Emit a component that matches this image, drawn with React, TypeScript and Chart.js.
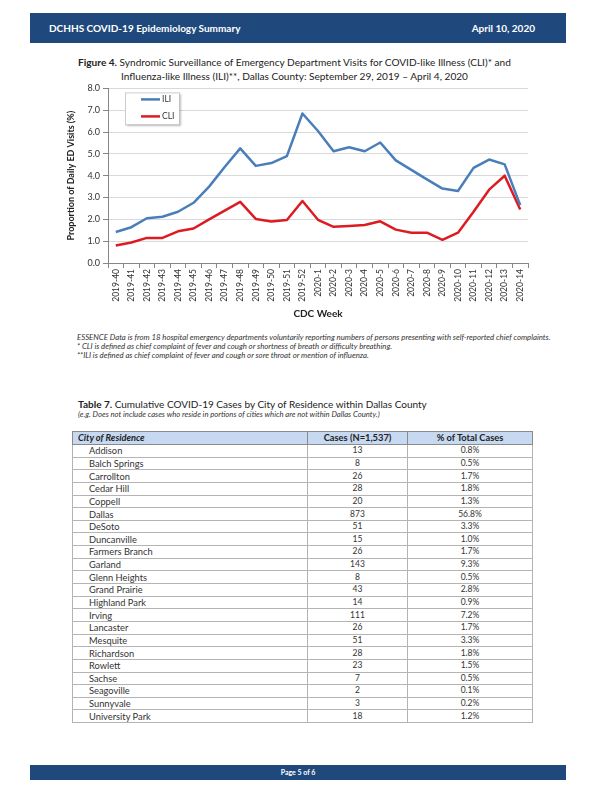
import React, { useEffect, useRef } from "react";
import { Chart, registerables } from "chart.js";

Chart.register(...registerables);

const weeks = [
  "2019-40", "2019-41", "2019-42", "2019-43", "2019-44", "2019-45", "2019-46",
  "2019-47", "2019-48", "2019-49", "2019-50", "2019-51", "2019-52",
  "2020-1", "2020-2", "2020-3", "2020-4", "2020-5", "2020-6", "2020-7",
  "2020-8", "2020-9", "2020-10", "2020-11", "2020-12", "2020-13", "2020-14",
];
const iliValues = [
  1.42, 1.64, 2.05, 2.12, 2.35, 2.76, 3.5, 4.4, 5.25, 4.45, 4.58, 4.9, 6.85,
  6.05, 5.12, 5.3, 5.12, 5.52, 4.7, 4.27, 3.83, 3.41, 3.3, 4.36, 4.74, 4.52, 2.65,
];
const cliValues = [
  0.8, 0.94, 1.15, 1.15, 1.45, 1.58, 2.0, 2.4, 2.8, 2.02, 1.9, 1.97, 2.84,
  1.98, 1.66, 1.7, 1.74, 1.91, 1.53, 1.39, 1.39, 1.06, 1.39, 2.35, 3.36, 4.0, 2.45,
];
const seriesLabels = ["ILI", "CLI"];
const seriesColors = ["#4a7ebb", "#dc1c22"];

const cities = [
  "Addison", "Balch Springs", "Carrollton", "Cedar Hill", "Coppell", "Dallas",
  "DeSoto", "Duncanville", "Farmers Branch", "Garland", "Glenn Heights",
  "Grand Prairie", "Highland Park", "Irving", "Lancaster", "Mesquite",
  "Richardson", "Rowlett", "Sachse", "Seagoville", "Sunnyvale", "University Park",
];
const cases = [13, 8, 26, 28, 20, 873, 51, 15, 26, 143, 8, 43, 14, 111, 26, 51, 28, 23, 7, 2, 3, 18];
const percents = [
  "0.8%", "0.5%", "1.7%", "1.8%", "1.3%", "56.8%", "3.3%", "1.0%", "1.7%", "9.3%",
  "0.5%", "2.8%", "0.9%", "7.2%", "1.7%", "3.3%", "1.8%", "1.5%", "0.5%", "0.1%",
  "0.2%", "1.2%",
];
const tableHeaders = ["City of Residence", "Cases (N=1,537)", "% of Total Cases"];

const footnotes = [
  "ESSENCE Data is from 18 hospital emergency departments voluntarily reporting numbers of persons presenting with self-reported chief complaints.",
  "* CLI is defined as chief complaint of fever and cough or shortness of breath or difficulty breathing.",
  "**ILI is defined as chief complaint of fever and cough or sore throat or mention of influenza.",
];

const FONT = "Lato, 'Open Sans', sans-serif";
const NAVY = "#1f497d";

const legendBoxPlugin = {
  id: "legendBox",
  afterDatasetsDraw(chart: any) {
    const { ctx, chartArea } = chart;
    const x = chartArea.left + 17;
    const y = chartArea.top + 4;
    const w = 54;
    const h = 32;
    ctx.save();
    ctx.shadowColor = "rgba(0,0,0,0.25)";
    ctx.shadowOffsetX = 1.5;
    ctx.shadowOffsetY = 1.5;
    ctx.shadowBlur = 2;
    ctx.fillStyle = "#ffffff";
    ctx.fillRect(x, y, w, h);
    ctx.shadowColor = "transparent";
    ctx.strokeStyle = "#bfbfbf";
    ctx.lineWidth = 0.8;
    ctx.strokeRect(x + 0.5, y + 0.5, w, h);
    chart.data.datasets.forEach((ds: any, i: number) => {
      const ly = y + 7 + i * 17;
      ctx.strokeStyle = ds.borderColor;
      ctx.lineWidth = 2.5;
      ctx.beginPath();
      ctx.moveTo(x + 16, ly);
      ctx.lineTo(x + 35, ly);
      ctx.stroke();
      ctx.fillStyle = "#333333";
      ctx.font = `8.5px ${FONT}`;
      ctx.textBaseline = "middle";
      ctx.textAlign = "left";
      ctx.fillText(ds.label, x + 37, ly);
    });
    ctx.restore();
  },
};

function LineChart() {
  const ref = useRef<HTMLCanvasElement | null>(null);
  useEffect(() => {
    if (!ref.current) return;
    Chart.defaults.font.family = FONT;
    const chart = new Chart(ref.current, {
      type: "line",
      data: {
        labels: weeks,
        datasets: [
          {
            label: seriesLabels[0],
            data: iliValues,
            borderColor: seriesColors[0],
            backgroundColor: seriesColors[0],
            borderWidth: 2.5,
            pointRadius: 0,
            tension: 0,
            borderJoinStyle: "round",
          },
          {
            label: seriesLabels[1],
            data: cliValues,
            borderColor: seriesColors[1],
            backgroundColor: seriesColors[1],
            borderWidth: 2.5,
            pointRadius: 0,
            tension: 0,
            borderJoinStyle: "round",
          },
        ],
      },
      options: {
        responsive: false,
        animation: false,
        layout: { padding: { left: 0, top: 8, right: 12, bottom: 0 } },
        plugins: {
          legend: { display: false },
          tooltip: { enabled: false },
        },
        scales: {
          x: {
            type: "category",
            offset: true,
            afterFit: (scale: any) => {
              scale.height = 67;
            },
            grid: {
              offset: true,
              drawOnChartArea: false,
              drawTicks: true,
              tickLength: 5,
              tickColor: "#868686",
            },
            border: { color: "#868686", width: 1 },
            ticks: {
              autoSkip: false,
              minRotation: 90,
              maxRotation: 90,
              padding: 1,
              color: "#333333",
              font: { size: 8.5 },
            },
            title: {
              display: true,
              text: "CDC Week",
              color: "#222222",
              font: { size: 10, weight: "bold" },
              padding: { top: 2, bottom: 10 },
            },
          },
          y: {
            min: 0,
            max: 8,
            afterFit: (scale: any) => {
              scale.width = 48;
            },
            ticks: {
              stepSize: 1,
              padding: 3,
              color: "#333333",
              font: { size: 9 },
              callback: (v: any) => Number(v).toFixed(1),
            },
            grid: {
              color: "#d9d9d9",
              lineWidth: 1,
              tickLength: 5,
              tickColor: "#868686",
            },
            border: { color: "#868686", width: 1 },
            title: {
              display: true,
              text: "Proportion of Daily ED Visits (%)",
              color: "#222222",
              font: { size: 9, weight: "bold" },
              padding: { top: 6, bottom: 0 },
            },
          },
        },
      },
      plugins: [legendBoxPlugin],
    } as any);
    return () => chart.destroy();
  }, []);
  return <canvas ref={ref} width={480} height={250} style={{ width: 480, height: 250 }} />;
}

function Txt(props: {
  x: number;
  y: number;
  size: number;
  children: React.ReactNode;
  bold?: boolean;
  italic?: boolean;
  color?: string;
  align?: "left" | "right" | "center";
  width?: number;
}) {
  const { x, y, size, bold, italic, color, align, width } = props;
  const lh = size * 1.25;
  const style: React.CSSProperties = {
    position: "absolute",
    top: y - lh / 2,
    lineHeight: `${lh}px`,
    fontSize: size,
    fontWeight: bold ? 700 : 400,
    fontStyle: italic ? "italic" : "normal",
    color: color || "#222222",
    whiteSpace: "nowrap",
  };
  if (align === "right") {
    style.right = 612 - x;
  } else if (align === "center") {
    style.left = x - (width || 200) / 2;
    style.width = width || 200;
    style.textAlign = "center";
  } else {
    style.left = x;
  }
  return <div style={style}>{props.children}</div>;
}

export default function App() {
  const colW = [235, 100, 125];
  const rowH = 12.65;
  const cellBorder = "1px solid #b4b4b4";
  return (
    <div
      style={{
        position: "absolute",
        left: 0,
        top: 0,
        width: 612,
        height: 792,
        background: "#ffffff",
        fontFamily: FONT,
        overflow: "hidden",
      }}
    >
      {/* header bar */}
      <div style={{ position: "absolute", left: 30, top: 13, width: 536, height: 30, background: NAVY }} />
      <Txt x={49} y={28.5} size={10} bold color="#ffffff">DCHHS COVID-19 Epidemiology Summary</Txt>
      <Txt x={535} y={28.5} size={10} bold color="#ffffff" align="right">April 10, 2020</Txt>

      {/* figure title */}
      <Txt x={78} y={62} size={10.1}>
        <b>Figure 4.</b> Syndromic Surveillance of Emergency Department Visits for COVID-like Illness (CLI)* and
      </Txt>
      <Txt x={121} y={76} size={10.1}>
        Influenza-like Illness (ILI)**, Dallas County: September 29, 2019 – April 4, 2020
      </Txt>

      {/* chart */}
      <div style={{ position: "absolute", left: 60, top: 80, width: 480, height: 250 }}>
        <LineChart />
      </div>

      {/* footnotes */}
      {footnotes.map((t, i) => (
        <Txt key={i} x={77} y={338 + i * 9} size={7.8} italic color="#333333">
          {t}
        </Txt>
      ))}

      {/* table title */}
      <Txt x={78} y={404} size={10}>
        <b>Table 7.</b> Cumulative COVID-19 Cases by City of Residence within Dallas County
      </Txt>
      <Txt x={78} y={415} size={7.7} italic color="#333333">
        (e.g. Does not include cases who reside in portions of cities which are not within Dallas County.)
      </Txt>

      {/* table */}
      <table
        style={{
          position: "absolute",
          left: 72,
          top: 431,
          width: 460,
          borderCollapse: "collapse",
          tableLayout: "fixed",
          fontSize: 9.3,
          color: "#333333",
          border: "1.2px solid #8a8a8a",
        }}
      >
        <colgroup>
          {colW.map((w, i) => (
            <col key={i} style={{ width: w }} />
          ))}
        </colgroup>
        <thead>
          <tr style={{ height: 13, background: "#c6d9f1" }}>
            {tableHeaders.map((h, i) => (
              <th
                key={i}
                style={{
                  border: "1.2px solid #8a8a8a",
                  padding: 0,
                  paddingLeft: i === 0 ? 5 : 0,
                  textAlign: i === 0 ? "left" : "center",
                  fontStyle: i === 0 ? "italic" : "normal",
                  fontWeight: 700,
                  lineHeight: "12px",
                  fontSize: 9.3,
                  color: "#222222",
                }}
              >
                {h}
              </th>
            ))}
          </tr>
        </thead>
        <tbody>
          {cities.map((c, i) => (
            <tr key={c} style={{ height: rowH }}>
              <td style={{ border: cellBorder, padding: 0, paddingLeft: 16, lineHeight: "11px" }}>{c}</td>
              <td style={{ border: cellBorder, padding: 0, textAlign: "center", lineHeight: "11px", fontSize: 8.5 }}>{cases[i]}</td>
              <td style={{ border: cellBorder, padding: 0, textAlign: "center", lineHeight: "11px", fontSize: 8.5 }}>{percents[i]}</td>
            </tr>
          ))}
        </tbody>
      </table>

      {/* footer bar */}
      <div style={{ position: "absolute", left: 30, top: 765, width: 536, height: 15, background: NAVY }} />
      <Txt x={298} y={772.5} size={7} bold color="#ffffff" align="center" width={200}>
        Page 5 of 6
      </Txt>
    </div>
  );
}
